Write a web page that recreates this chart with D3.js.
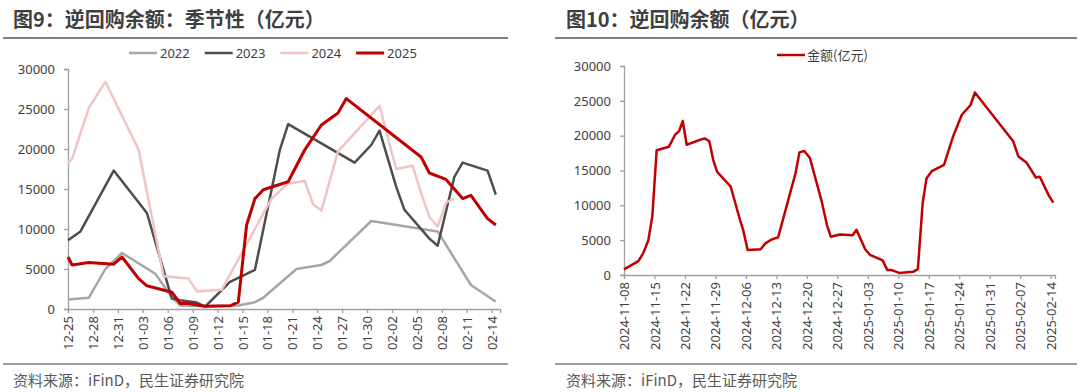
<!DOCTYPE html>
<html><head><meta charset="utf-8">
<script src="https://cdn.jsdelivr.net/npm/d3@7"></script>
<style>
html,body{margin:0;padding:0;background:#fff;}
svg{display:block;font-family:"Noto Sans CJK SC","Noto Sans",sans-serif;}
</style></head>
<body>
<svg id="chart" width="1080" height="392"></svg>
<script>
// ---------- Data: left chart (seasonal, day offset from 12-25) ----------
const leftTickLabels = ["12-25","12-28","12-31","01-03","01-06","01-09","01-12","01-15","01-18","01-21","01-24","01-27","01-30","02-02","02-05","02-08","02-11","02-14"];
const leftYTicks = [0,5000,10000,15000,20000,25000,30000];
const seriesNames = ["2022","2023","2024","2025"];
const s2022 = [[0,1200],[2.5,1400],[4.5,5000],[6.5,7000],[10.5,4400],[12.5,1500],[13.5,450],[16.5,350],[20.5,450],[22.5,850],[23.5,1400],[27.5,5000],[30.5,5500],[31.5,6000],[36.5,11000],[44.5,9700],[48.5,3000],[51.5,900]];
const s2023 = [[0,8600],[1.5,9700],[5.5,17300],[9.5,12000],[12.5,1300],[13.5,1100],[15.5,800],[16.5,300],[19.5,3400],[22.5,4900],[25.5,19900],[26.5,23100],[34.5,18300],[36.5,20500],[37.5,22300],[39.5,15300],[40.5,12400],[43.5,8800],[44.5,7900],[46.5,16500],[47.5,18300],[50.5,17300],[51.5,14300]];
const s2024 = [[0,18200],[0.5,18800],[2.5,25100],[4.5,28400],[8.5,19900],[11.5,4100],[14.5,3800],[15.5,2200],[18.5,2400],[24.5,13800],[26.5,15700],[28.5,16000],[29.5,13100],[30.5,12300],[32.5,19700],[37.5,25400],[39.5,17500],[41.5,17900],[42.5,14500],[43.5,11500],[44.5,10300],[45.5,13300],[46.5,13800]];
const s2025 = [[0,6500],[0.5,5500],[2.5,5800],[5.5,5600],[6.5,6500],[8.5,3800],[9.5,2900],[12.5,2100],[13.5,700],[14.5,700],[16.5,350],[19.5,400],[20.5,850],[21.5,10500],[22.5,13800],[23.5,14900],[26.5,15900],[28.5,19900],[30.5,23000],[32.5,24500],[33.5,26300],[42.5,19000],[43.5,17000],[45.5,16200],[47.5,13800],[48.5,14200],[50.5,11300],[51.5,10500]];

// ---------- Data: right chart (day offset from 2024-11-08) ----------
const rightTickLabels = ["2024-11-08","2024-11-15","2024-11-22","2024-11-29","2024-12-06","2024-12-13","2024-12-20","2024-12-27","2025-01-03","2025-01-10","2025-01-17","2025-01-24","2025-01-31","2025-02-07","2025-02-14"];
const rightYTicks = [0,5000,10000,15000,20000,25000,30000];
const rightSeriesName = "金额(亿元)";
const rightValues = [[0,800],[3.3,2000],[4.4,3100],[5.6,5000],[6.5,8400],[7.5,17900],[10.3,18400],[11.7,20100],[12.7,20700],[13.5,22100],[14.4,18700],[17.9,19500],[18.6,19600],[19.6,19200],[20.5,16500],[21.4,14800],[24.5,12700],[26.6,8000],[27.4,6400],[28.4,3600],[31.4,3700],[32.4,4500],[33.9,5100],[35.4,5400],[39.4,14600],[40.3,17600],[41.4,17800],[42.7,16800],[45.4,10600],[46.6,7200],[47.5,5500],[49.6,5800],[52.5,5700],[53.4,6500],[55.4,3700],[56.5,2900],[59.4,2100],[60.5,700],[61.5,700],[63.2,300],[66.4,450],[67.5,850],[68.6,10300],[69.5,13900],[70.7,14900],[73.5,15800],[75.6,19900],[77.6,23000],[79.6,24400],[80.6,26200],[89.4,19200],[90.6,17000],[92.5,16100],[94.6,14000],[95.5,14100],[97.6,11400],[98.6,10400]];

const titles = ["图9：逆回购余额：季节性（亿元）","图10：逆回购余额（亿元）"];
const sourceText = "资料来源：iFinD，民生证券研究院";

// ---------- Styles ----------
const colors = {"2022":"#a6a6a6","2023":"#4d4d4d","2024":"#f0c4c4","2025":"#c00000"};
const widths = {"2022":2.5,"2023":2.5,"2024":2.5,"2025":3};
const axisColor = "#a0a0a0";
const textColor = "#404040";

const svg = d3.select("#chart");

// Panels frame (titles, rules, source)
const panels = [{x0:3,x1:508,tx:13},{x0:555,x1:1077,tx:566}];
panels.forEach((p,i)=>{
  svg.append("text").attr("x",p.tx).attr("y",27).attr("font-size",20).attr("font-weight","bold")
    .attr("fill","#3f3f3f").text(titles[i]);
  svg.append("line").attr("x1",p.x0).attr("x2",p.x1).attr("y1",38).attr("y2",38)
    .attr("stroke","#7f7f7f").attr("stroke-width",2);
  svg.append("line").attr("x1",p.x0).attr("x2",p.x1).attr("y1",364).attr("y2",364)
    .attr("stroke","#7f7f7f").attr("stroke-width",1.5);
  svg.append("text").attr("x",p.tx).attr("y",386).attr("font-size",15)
    .attr("fill","#595959").text(sourceText);
});

function drawAxes(g, x, y, ticksX, labelsX, yTicks){
  const yAxis = d3.axisLeft(y).tickValues(yTicks).tickSize(4).tickPadding(9).tickFormat(d3.format("d"));
  const gy = g.append("g").attr("transform",`translate(${x.range()[0]},0)`).call(yAxis);
  gy.select(".domain").attr("stroke",axisColor).attr("stroke-width",1.3);
  gy.selectAll(".tick line").attr("stroke",axisColor).attr("stroke-width",1.3);
  gy.selectAll(".tick text").attr("font-size",13).attr("fill",textColor)
    .attr("font-family","'Noto Sans','Noto Sans CJK SC',sans-serif");

  const xAxis = d3.axisBottom(x).tickValues(ticksX).tickSize(4).tickPadding(4)
    .tickFormat((d,i)=>labelsX[i]);
  const gx = g.append("g").attr("transform",`translate(0,${y.range()[0]})`).call(xAxis);
  gx.select(".domain").attr("stroke",axisColor).attr("stroke-width",1.3);
  gx.selectAll(".tick line").attr("stroke",axisColor).attr("stroke-width",1.3);
  gx.selectAll(".tick text").attr("font-size",13).attr("fill",textColor)
    .attr("font-family","'Noto Sans','Noto Sans CJK SC',sans-serif")
    .attr("text-anchor","end").attr("dy","0.35em")
    .attr("transform","translate(0,7) rotate(-90)").attr("x",0).attr("y",0);
}

// ---------- Left chart ----------
const xL = d3.scaleLinear().domain([0,52]).range([68,500]);
const yL = d3.scaleLinear().domain([0,30000]).range([309,69]);
const gL = svg.append("g");
drawAxes(gL, xL, yL, leftTickLabels.map((d,i)=>i*3), leftTickLabels, leftYTicks);

const lineL = d3.line().x(d=>xL(d[0])).y(d=>yL(d[1]));
const leftSeries = {"2022":s2022,"2023":s2023,"2024":s2024,"2025":s2025};
seriesNames.forEach(n=>{
  gL.append("path").datum(leftSeries[n]).attr("d",lineL).attr("fill","none")
    .attr("stroke",colors[n]).attr("stroke-width",widths[n]).attr("stroke-linejoin","round");
});
// legend
seriesNames.forEach((n,i)=>{
  const lx = 129 + i*75.7;
  gL.append("line").attr("x1",lx).attr("x2",lx+28).attr("y1",53).attr("y2",53)
    .attr("stroke",colors[n]).attr("stroke-width",widths[n]);
  gL.append("text").attr("x",lx+31).attr("y",53).attr("dy","0.35em").attr("font-size",13)
    .attr("fill",textColor).attr("font-family","'Noto Sans',sans-serif").text(n);
});

// ---------- Right chart ----------
const xR = d3.scaleLinear().domain([0,99]).range([624,1055]);
const yR = d3.scaleLinear().domain([0,30000]).range([275,66]);
const gR = svg.append("g");
drawAxes(gR, xR, yR, rightTickLabels.map((d,i)=>i*7), rightTickLabels, rightYTicks);
const lineR = d3.line().x(d=>xR(d[0])).y(d=>yR(d[1]));
gR.append("path").datum(rightValues).attr("d",lineR).attr("fill","none")
  .attr("stroke","#c00000").attr("stroke-width",2.5).attr("stroke-linejoin","round");
gR.append("line").attr("x1",777).attr("x2",805).attr("y1",55).attr("y2",55)
  .attr("stroke","#c00000").attr("stroke-width",2.5);
gR.append("text").attr("x",807).attr("y",55).attr("dy","0.35em").attr("font-size",13)
  .attr("fill",textColor).text(rightSeriesName);
</script>
</body></html>
